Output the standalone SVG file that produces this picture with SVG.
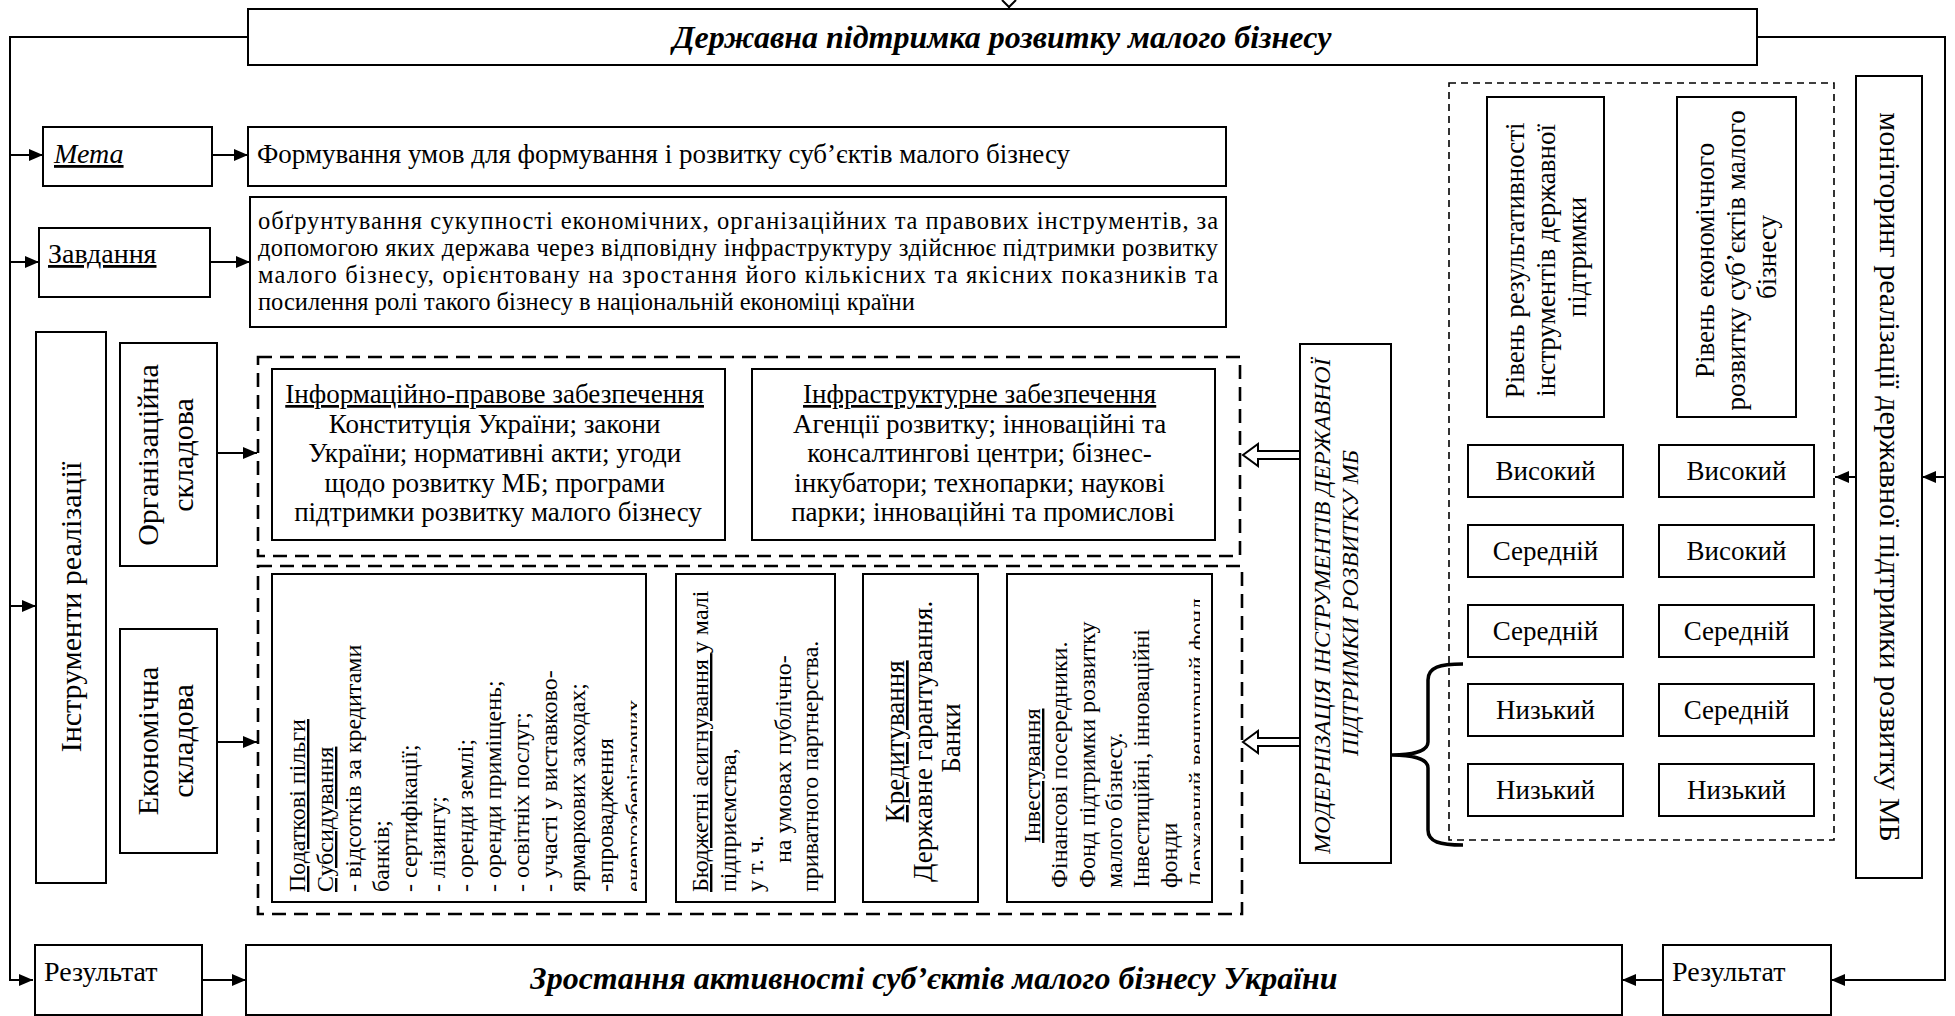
<svg xmlns="http://www.w3.org/2000/svg" width="1955" height="1016" viewBox="0 0 1955 1016">
<style>
.box{fill:#fff;stroke:#000;stroke-width:2}
.dA{fill:none;stroke:#000;stroke-width:2.6;stroke-dasharray:14 8}
.dB{fill:none;stroke:#000;stroke-width:1.6;stroke-dasharray:7 5}
.c{fill:none;stroke:#000;stroke-width:2}
.t{font-family:"Liberation Serif","Times New Roman",serif;fill:#000}
.bi{font-weight:bold;font-style:italic;font-size:32px}
.s24{font-size:24px}.s245{font-size:24.5px}.s27{font-size:27px}.s28{font-size:28px}.s30{font-size:30px}
.u{text-decoration:underline}
.hollow{fill:#fff;stroke:#000;stroke-width:2}
</style>
<defs>
<marker id="ah" viewBox="0 0 14 12" refX="14" refY="6" markerWidth="14" markerHeight="12" markerUnits="userSpaceOnUse" orient="auto">
<path d="M0,0 L14,6 L0,12 Z" fill="#000"/>
</marker>
<clipPath id="clipPod"><rect x="273" y="575" width="364" height="326"/></clipPath>
<clipPath id="clipInv"><rect x="1008" y="575" width="192" height="326"/></clipPath>
</defs>

<g id="connectors">
<polyline class="c" points="248,37 10,37 10,980 33,980" marker-end="url(#ah)"/>
<line class="c" x1="10" y1="155" x2="43" y2="155" marker-end="url(#ah)"/>
<line class="c" x1="10" y1="262" x2="39" y2="262" marker-end="url(#ah)"/>
<line class="c" x1="10" y1="606" x2="36" y2="606" marker-end="url(#ah)"/>
<polyline class="c" points="1757,37 1945,37 1945,980 1831,980" marker-end="url(#ah)"/>
<line class="c" x1="1945" y1="477" x2="1922" y2="477" marker-end="url(#ah)"/>
<line class="c" x1="1856" y1="477" x2="1835" y2="477" marker-end="url(#ah)"/>
<line class="c" x1="212" y1="155" x2="248" y2="155" marker-end="url(#ah)"/>
<line class="c" x1="210" y1="262" x2="250" y2="262" marker-end="url(#ah)"/>
<line class="c" x1="217" y1="453" x2="257" y2="453" marker-end="url(#ah)"/>
<line class="c" x1="217" y1="742" x2="257" y2="742" marker-end="url(#ah)"/>
<line class="c" x1="202" y1="980" x2="246" y2="980" marker-end="url(#ah)"/>
<line class="c" x1="1663" y1="980" x2="1622" y2="980" marker-end="url(#ah)"/>
<path class="c" d="M1002,0 L1009,7 L1016,0 M1009,7 L1009,10"/>
<path class="hollow" d="M1300,451 L1258,451 L1258,444 L1243,455 L1258,466 L1258,459 L1300,459 Z"/>
<path class="hollow" d="M1300,738 L1258,738 L1258,731 L1243,742 L1258,753 L1258,746 L1300,746 Z"/>
<path d="M1463,664 C1440,664 1428,667 1428,680 L1428,742 C1428,752 1410,755 1392,755 C1410,755 1428,758 1428,768 L1428,830 C1428,842 1440,845 1463,845" fill="none" stroke="#000" stroke-width="3.5"/>
</g>

<g id="title">
<rect class="box" x="248" y="9" width="1509" height="56"/>
<text class="t bi" x="1002" y="48" text-anchor="middle">Державна підтримка розвитку малого бізнесу</text>
</g>

<g id="meta">
<rect class="box" x="43" y="127" width="169" height="59"/>
<text class="t s28 u" x="54" y="163" font-style="italic">Мета</text>
</g>
<g id="meta-text">
<rect class="box" x="248" y="127" width="978" height="59"/>
<text class="t s27" x="257" y="163">Формування умов для формування і розвитку суб’єктів малого бізнесу</text>
</g>

<g id="zavdannia">
<rect class="box" x="39" y="228" width="171" height="69"/>
<text class="t s28 u" x="48" y="263">Завдання</text>
</g>
<g id="zavdannia-text">
<rect class="box" x="250" y="197" width="976" height="130"/>
<text class="t s245" x="258" y="229" textLength="960" lengthAdjust="spacing">обґрунтування сукупності економічних, організаційних та правових інструментів, за</text>
<text class="t s245" x="258" y="256" textLength="960" lengthAdjust="spacing">допомогою яких держава через відповідну інфраструктуру  здійснює підтримки розвитку</text>
<text class="t s245" x="258" y="283" textLength="960" lengthAdjust="spacing">малого бізнесу, орієнтовану на зростання  його кількісних та якісних показників та</text>
<text class="t s245" x="258" y="310">посилення ролі такого бізнесу в національній економіці країни</text>
</g>

<g id="instrumenty">
<rect class="box" x="36" y="332" width="70" height="551"/>
<text class="t s30" transform="translate(81,607) rotate(-90)" text-anchor="middle">Інструменти реалізації</text>
</g>

<g id="org">
<rect class="box" x="120" y="343" width="97" height="223"/>
<text class="t s30" transform="translate(158,455) rotate(-90)" text-anchor="middle">Організаційна</text>
<text class="t s30" transform="translate(193,455) rotate(-90)" text-anchor="middle">складова</text>
</g>

<g id="econ">
<rect class="box" x="120" y="629" width="97" height="224"/>
<text class="t s30" transform="translate(158,741) rotate(-90)" text-anchor="middle">Економічна</text>
<text class="t s30" transform="translate(193,741) rotate(-90)" text-anchor="middle">складова</text>
</g>

<g id="org-group">
<rect class="dA" x="258" y="357" width="982" height="199"/>
</g>
<g id="info-pravove">
<rect class="box" x="272" y="369" width="453" height="171"/>
<text class="t s27" text-anchor="middle">
<tspan class="u" x="498" y="403">Інформаційно-правове забезпечення</tspan>
<tspan x="498" y="432.5">Конституція України; закони</tspan>
<tspan x="498" y="462">України; нормативні акти; угоди</tspan>
<tspan x="498" y="491.5">щодо розвитку МБ; програми</tspan>
<tspan x="498" y="521">підтримки розвитку малого бізнесу</tspan>
</text>
</g>
<g id="infrastruktura">
<rect class="box" x="752" y="369" width="463" height="171"/>
<text class="t s27" text-anchor="middle">
<tspan class="u" x="983" y="403">Інфраструктурне забезпечення</tspan>
<tspan x="983" y="432.5">Агенції розвитку; інноваційні та</tspan>
<tspan x="983" y="462">консалтингові центри; бізнес-</tspan>
<tspan x="983" y="491.5">інкубатори; технопарки; наукові</tspan>
<tspan x="983" y="521">парки; інноваційні та промислові</tspan>
</text>
</g>

<g id="econ-group">
<rect class="dA" x="258" y="566" width="984" height="348"/>
</g>
<g id="podatkovi">
<rect class="box" x="272" y="574" width="374" height="328"/>
<g clip-path="url(#clipPod)">
<text class="t s24" transform="translate(305,892) rotate(-90)" style="white-space:pre">
<tspan class="u" x="0" y="0">Податкові пільги</tspan>
<tspan class="u" x="0" y="28">Субсидування</tspan>
<tspan x="0" y="56">- відсотків за кредитами</tspan>
<tspan x="0" y="84">банків;</tspan>
<tspan x="0" y="112">- сертифікації;</tspan>
<tspan x="0" y="140">- лізингу;</tspan>
<tspan x="0" y="168">- оренди землі;</tspan>
<tspan x="0" y="196">- оренди приміщень;</tspan>
<tspan x="0" y="224">- освітніх послуг;</tspan>
<tspan x="0" y="252">- участі у виставково-</tspan>
<tspan x="0" y="280">ярмаркових заходах;</tspan>
<tspan x="0" y="308">-впровадження</tspan>
<tspan x="0" y="337">енергозберігаючих</tspan>
</text>
</g>
</g>
<g id="biudzhetni">
<rect class="box" x="676" y="574" width="159" height="328"/>
<text class="t s24" transform="translate(708,892) rotate(-90)" style="white-space:pre">
<tspan x="0" y="0"><tspan class="u">Бюджетні асигнування </tspan>у малі</tspan>
<tspan x="0" y="27.5">підприємства,</tspan>
<tspan x="0" y="55">у т. ч.</tspan>
<tspan x="29" y="82.5">на умовах публічно-</tspan>
<tspan x="0" y="110">приватного партнерства.</tspan>
</text>
</g>
<g id="kredytuvannia">
<rect class="box" x="863" y="574" width="115" height="328"/>
<text class="t s27" transform="translate(904,738) rotate(-90)" text-anchor="middle">
<tspan class="u" x="0" y="0">Кредитування</tspan>
<tspan x="0" y="28">Державне гарантування.</tspan>
<tspan x="0" y="56">Банки</tspan>
</text>
</g>
<g id="investuvannia">
<rect class="box" x="1007" y="574" width="205" height="328"/>
<g clip-path="url(#clipInv)">
<text class="t s24" transform="translate(1040,888) rotate(-90)">
<tspan class="u" x="45" y="0">Інвестування</tspan>
<tspan x="0" y="27.3">Фінансові посередники.</tspan>
<tspan x="0" y="54.6">Фонд підтримки розвитку</tspan>
<tspan x="0" y="81.9">малого бізнесу.</tspan>
<tspan x="0" y="109.2">Інвестиційні, інноваційні</tspan>
<tspan x="0" y="136.5">фонди</tspan>
<tspan x="0" y="165">Державний венчурний фонд</tspan>
</text>
</g>
</g>

<g id="modernizatsiia">
<rect class="box" x="1300" y="344" width="91" height="519"/>
<text class="t s24" font-style="italic" transform="translate(1330,603) rotate(-90)" text-anchor="middle">
<tspan x="0" y="0">МОДЕРНІЗАЦІЯ ІНСТРУМЕНТІВ ДЕРЖАВНОЇ</tspan>
<tspan x="0" y="28">ПІДТРИМКИ РОЗВИТКУ МБ</tspan>
</text>
</g>

<g id="otsinka-group">
<rect class="dB" x="1449" y="83" width="385" height="757"/>
</g>
<g id="riven-rezult">
<rect class="box" x="1487" y="97" width="117" height="320"/>
<text class="t s27" transform="translate(1524,257) rotate(-90)" text-anchor="middle">
<tspan x="0" y="0">Рівень результативності</tspan>
<tspan x="0" y="31">інструментів державної</tspan>
<tspan x="0" y="62">підтримки</tspan>
</text>
</g>
<g id="riven-econ">
<rect class="box" x="1677" y="97" width="119" height="320"/>
<text class="t s27" transform="translate(1714,257) rotate(-90)" text-anchor="middle">
<tspan x="0" y="0">Рівень економічного</tspan>
<tspan x="0" y="31">розвитку суб’єктів малого</tspan>
<tspan x="0" y="62">бізнесу</tspan>
</text>
</g>
<g id="lvl-1-1"><rect class="box" x="1468" y="445" width="155" height="52"/><text class="t s27" x="1545.5" y="480" text-anchor="middle">Високий</text></g>
<g id="lvl-1-2"><rect class="box" x="1659" y="445" width="155" height="52"/><text class="t s27" x="1736.5" y="480" text-anchor="middle">Високий</text></g>
<g id="lvl-2-1"><rect class="box" x="1468" y="525" width="155" height="52"/><text class="t s27" x="1545.5" y="560" text-anchor="middle">Середній</text></g>
<g id="lvl-2-2"><rect class="box" x="1659" y="525" width="155" height="52"/><text class="t s27" x="1736.5" y="560" text-anchor="middle">Високий</text></g>
<g id="lvl-3-1"><rect class="box" x="1468" y="605" width="155" height="52"/><text class="t s27" x="1545.5" y="640" text-anchor="middle">Середній</text></g>
<g id="lvl-3-2"><rect class="box" x="1659" y="605" width="155" height="52"/><text class="t s27" x="1736.5" y="640" text-anchor="middle">Середній</text></g>
<g id="lvl-4-1"><rect class="box" x="1468" y="684" width="155" height="52"/><text class="t s27" x="1545.5" y="719" text-anchor="middle">Низький</text></g>
<g id="lvl-4-2"><rect class="box" x="1659" y="684" width="155" height="52"/><text class="t s27" x="1736.5" y="719" text-anchor="middle">Середній</text></g>
<g id="lvl-5-1"><rect class="box" x="1468" y="764" width="155" height="52"/><text class="t s27" x="1545.5" y="799" text-anchor="middle">Низький</text></g>
<g id="lvl-5-2"><rect class="box" x="1659" y="764" width="155" height="52"/><text class="t s27" x="1736.5" y="799" text-anchor="middle">Низький</text></g>

<g id="monitoryng">
<rect class="box" x="1856" y="76" width="66" height="802"/>
<text class="t s30" transform="translate(1880,477) rotate(90)" text-anchor="middle">моніторинг реалізації державної підтримки розвитку МБ</text>
</g>

<g id="rezultat-left">
<rect class="box" x="35" y="945" width="167" height="70"/>
<text class="t s28" x="44" y="981">Результат</text>
</g>
<g id="zrostannia">
<rect class="box" x="246" y="945" width="1376" height="70"/>
<text class="t bi" x="934" y="989" text-anchor="middle">Зростання активності суб’єктів малого бізнесу України</text>
</g>
<g id="rezultat-right">
<rect class="box" x="1663" y="945" width="168" height="70"/>
<text class="t s28" x="1672" y="981">Результат</text>
</g>
</svg>
